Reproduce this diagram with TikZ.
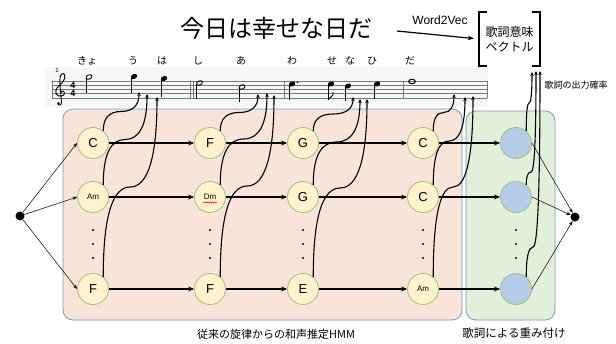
\documentclass[tikz,border=0pt]{standalone}
\usepackage{fontspec}
\setmainfont{Liberation Sans}
\newfontfamily\jp{Noto Sans CJK JP}
\usetikzlibrary{arrows.meta,calc,decorations.pathmorphing}
\definecolor{pinkfill}{RGB}{249,228,218}
\definecolor{greenfill}{RGB}{226,239,218}
\definecolor{boxline}{RGB}{124,150,190}
\definecolor{yellowfill}{RGB}{255,242,204}
\definecolor{bluefill}{RGB}{181,205,234}
\definecolor{ringgreen}{RGB}{160,200,125}
\definecolor{staffgray}{RGB}{120,120,120}
\tikzset{
  region/.style={draw=boxline, line width=0.8pt, rounded corners=10pt},
  chord/.style={circle, draw=ringgreen, line width=0.9pt, fill=yellowfill, minimum size=31pt, inner sep=0pt, font=\fontsize{13}{13}\selectfont},
  smallchord/.style={chord, font=\fontsize{8}{8}\selectfont},
  weight/.style={chord, fill=bluefill},
  blackdot/.style={circle, fill=black, minimum size=9pt, inner sep=0pt},
  trans/.style={line width=1.3pt, -{Stealth[length=6pt,width=5pt]}},
  thinarrow/.style={line width=0.5pt, -{Stealth[length=4.5pt,width=3.5pt]}},
  curvearrow/.style={line width=1.1pt, -{Stealth[length=4pt,width=3.5pt]}},
  vdot/.style={circle, fill=black, minimum size=2.2pt, inner sep=0pt},
  staffline/.style={draw=staffgray, line width=0.6pt},
  lyric/.style={font=\jp\fontsize{10}{10}\selectfont},
  fullhead/.style={fill=black},
  openhead/.style={draw=black, line width=0.9pt},
  stem/.style={line width=0.7pt},
}
\newcommand{\melcurve}[3]{%
  \draw[curvearrow] let \p1=(#1.50), \p2=(#2), \p3=(0,#3) in
  (\p1) .. controls (\x1,{\y1+2/3*((\y3)-(\y1))}) and ({5/6*\x1+1/6*\x2},\y3)
  .. ({(\x1+\x2)/2},\y3)
  .. controls ({1/6*\x1+5/6*\x2},\y3) and (\x2,{\y2+2/3*((\y3)-(\y2))}) .. (\p2);}
\begin{document}
\begin{tikzpicture}[x=1pt,y=-1pt]
\useasboundingbox[fill=white] (0,0) rectangle (616,343);

% regions
\draw[region, fill=pinkfill] (63,109) rectangle (462,320);
\draw[region, fill=greenfill] (466,111) rectangle (555,320);
\node (hmmlabel) at (276,334) {\jp\fontsize{11}{11}\selectfont 従来の旋律からの和声推定HMM};
\node (wlabel) at (514,333) {\jp\fontsize{11.5}{11.5}\selectfont 歌詞による重み付け};

% title and vector
\node (title) at (276,28) {\jp\fontsize{24}{24}\selectfont 今日は幸せな日だ};
\node (w2v) at (440,20) {\fontsize{12}{12}\selectfont Word2Vec};
\node[minimum width=61pt, minimum height=54pt, inner sep=0pt, align=center,
      font=\jp\fontsize{12}{15}\selectfont] (vec) at (509.5,39) {歌詞意味\\ベクトル};
\draw[line width=1.6pt] ($(vec.north west)+(8,0)$) -- (vec.north west) -- (vec.south west) -- ++(8,0);
\draw[line width=1.6pt] ($(vec.north east)+(-8,0)$) -- (vec.north east) -- (vec.south east) -- ++(-8,0);
\coordinate (w2vfrom) at (397,31);
\draw[line width=1.2pt, -{Stealth[length=6pt,width=4.5pt]}, shorten >=5pt] (w2vfrom) -- (vec.west);
\node (prob) at (576,85) {\jp\fontsize{9}{9}\selectfont 歌詞の出力確率};

% staff
\fill[black!3] (45,67) rectangle (488,107);
\foreach \yy in {81,85.2,89.4,93.6,97.8} \draw[staffline] (52,\yy) -- (487,\yy);
\foreach \xx in {52,190,193,284,403,487} \draw[staffline] (\xx,81) -- (\xx,97.8);
% treble clef (drawn)
\draw[line width=0.9pt, line cap=round]
  (60.5,93) .. controls (60.5,90.5) and (64,90) .. (64.5,93)
  .. controls (65,96.5) and (58,97.5) .. (56.2,94)
  .. controls (54.5,90) and (58,86) .. (61,84)
  .. controls (64,81.5) and (65.5,77) .. (64.5,74.5)
  .. controls (63.5,72.5) and (60.5,74) .. (60,78)
  .. controls (59.5,84) and (61,97) .. (61.5,102)
  .. controls (62,105.5) and (58,106) .. (57.5,103.5);
\fill (58.6,103.2) circle (1.3);
\node[font=\bfseries\fontsize{9}{9}\selectfont, inner sep=0pt] (tsa) at (73,85.3) {4};
\node[font=\bfseries\fontsize{9}{9}\selectfont, inner sep=0pt] (tsb) at (73,93.7) {4};
\node[font=\fontsize{6}{6}\selectfont\rmfamily, inner sep=0pt] (mnum) at (57,70) {1};

% notes
\draw[openhead, rotate around={25:(89,77)}] (89,77) ellipse (3.1 and 2.1);
\draw[stem] (86.2,78) -- (86.2,93);
\fill[fullhead, rotate around={25:(134,76.5)}] (134,76.5) ellipse (3.3 and 2.4);
\draw[stem] (131,77) -- (131,93);
\fill[fullhead, rotate around={25:(164,78.5)}] (164,78.5) ellipse (3.3 and 2.4);
\draw[stem] (161,79) -- (161,97);
\draw[openhead, rotate around={25:(199.5,83)}] (199.5,83) ellipse (3.1 and 2.1);
\draw[stem] (196.7,84) -- (196.7,99);
\draw[openhead, rotate around={25:(242,87)}] (242,87) ellipse (3.1 and 2.1);
\draw[stem] (239.2,88) -- (239.2,102);
\fill[fullhead, rotate around={25:(292,84)}] (292,84) ellipse (3.3 and 2.4);
\draw[stem] (289,84.5) -- (289,100);
\fill (297.5,82.5) circle (0.9);
\fill[fullhead, rotate around={25:(331,84)}] (331,84) ellipse (3.3 and 2.4);
\draw[stem] (328,84.5) -- (328,100);
\draw[line width=0.8pt] (328,100) .. controls (330,97) and (334,96) .. (333,92);
\fill[fullhead, rotate around={25:(348,86)}] (348,86) ellipse (3.3 and 2.4);
\draw[stem] (345,86.5) -- (345,101);
\fill[fullhead, rotate around={25:(377,84)}] (377,84) ellipse (3.3 and 2.4);
\draw[stem] (374,84.5) -- (374,99);
\draw[line width=1pt] (412,81.5) ellipse (3.4 and 2.2);

% lyrics
\node[lyric] (l1) at (87,61) {きょ};
\node[lyric] (l2) at (133,61) {う};
\node[lyric] (l3) at (162,61) {は};
\node[lyric] (l4) at (198,61) {し};
\node[lyric] (l5) at (241,61) {あ};
\node[lyric] (l6) at (292,61) {わ};
\node[lyric] (l7) at (332,61) {せ};
\node[lyric] (l8) at (350,61) {な};
\node[lyric] (l9) at (372,61) {ひ};
\node[lyric] (l10) at (410,61) {だ};

% melody targets
\coordinate (t11) at (139,92);  \coordinate (t12) at (147,94);  \coordinate (t13) at (157,97);
\coordinate (t21) at (258,94);  \coordinate (t22) at (267,93);  \coordinate (t23) at (274,95);
\coordinate (t31) at (353,97);  \coordinate (t32) at (360,99);  \coordinate (t33) at (367,99);
\coordinate (t41) at (454,94);  \coordinate (t42) at (465,97);  \coordinate (t43) at (473,96);
\coordinate (t51) at (532,72);  \coordinate (t52) at (536,71);  \coordinate (t53) at (540,71);

% chord nodes
\node[chord] (c11) at (93,143) {C};
\node[smallchord] (c12) at (93,197) {Am};
\node[chord] (c13) at (93,289) {F};
\node[chord] (c21) at (210,143) {F};
\node[smallchord] (c22) at (210,197) {Dm};
\node[chord] (c23) at (210,289) {F};
\node[chord] (c31) at (303,143) {G};
\node[chord] (c32) at (303,197) {G};
\node[chord] (c33) at (303,289) {E};
\node[chord] (c41) at (423,143) {C};
\node[chord] (c42) at (423,197) {C};
\node[smallchord] (c43) at (423,289) {Am};
\node[weight] (b1) at (516,143) {};
\node[weight] (b2) at (516,197) {};
\node[weight] (b3) at (516,289) {};
\draw[red, line width=0.5pt, decorate, decoration={snake, amplitude=0.6pt, segment length=2.2pt}] (203,202.5) -- (217,202.5);

\node[blackdot] (start) at (20,216) {};
\node[blackdot] (end) at (575,217) {};

% vertical dots
\foreach \xx in {93,210,303,423,516}
  \foreach \yy in {230,244,258} \node[vdot] at (\xx,\yy) {};

% melody curves
\melcurve{c11}{t11}{111.5}
\melcurve{c12}{t12}{139.5}
\melcurve{c13}{t13}{187}
\melcurve{c21}{t21}{112.5}
\melcurve{c22}{t22}{139}
\melcurve{c23}{t23}{186}
\melcurve{c31}{t31}{114}
\melcurve{c32}{t32}{142}
\melcurve{c33}{t33}{188}
\melcurve{c41}{t41}{112.5}
\melcurve{c42}{t42}{141}
\melcurve{c43}{t43}{187}
\melcurve{b1}{t51}{103}
\melcurve{b2}{t52}{172}
\melcurve{b3}{t53}{247}

% transitions
\foreach \r in {1,2,3}{
  \draw[trans] (c1\r) -- (c2\r);
  \draw[trans] (c2\r) -- (c3\r);
  \draw[trans] (c3\r) -- (c4\r);
  \draw[trans] (c4\r) -- (b\r);
  \draw[thinarrow] (start) -- (c1\r.west);
  \draw[thinarrow] (b\r.east) -- (end);
}
\end{tikzpicture}
\end{document}
